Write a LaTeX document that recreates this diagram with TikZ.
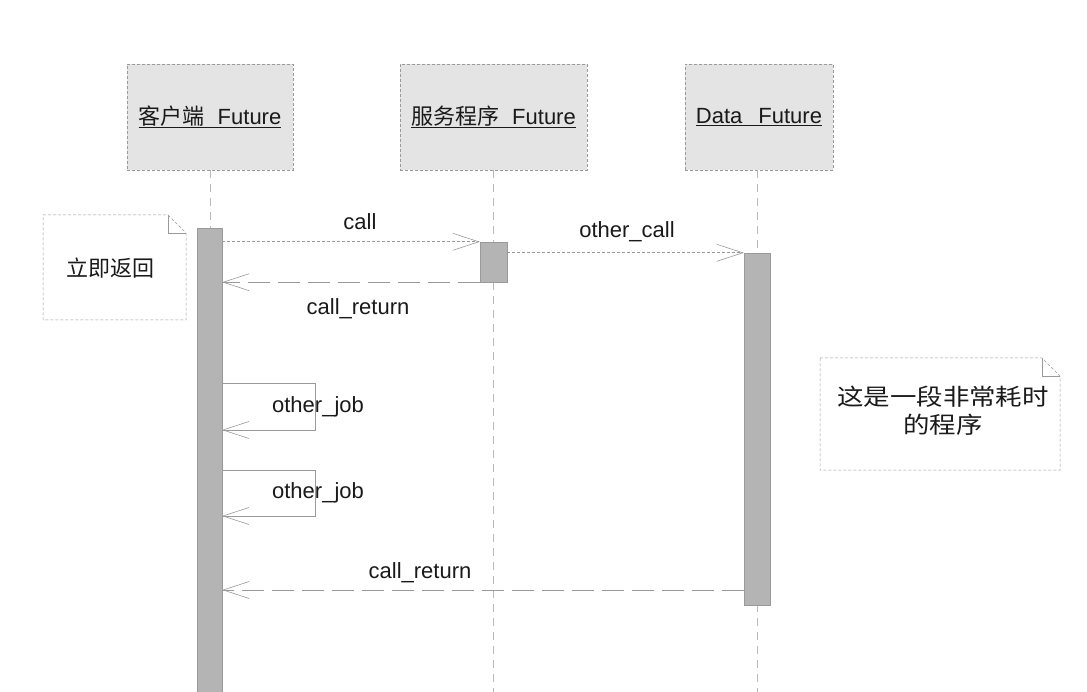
\documentclass[tikz,border=0pt]{standalone}
\usepackage{fontspec}
\setmainfont{Liberation Sans}
\newfontfamily\cjk{Noto Sans CJK SC}
\newfontfamily\cjkwide[FakeStretch=1.15]{Noto Sans CJK SC}
\usetikzlibrary{arrows.meta}
\definecolor{hdrfill}{HTML}{E4E4E4}
\definecolor{linegray}{HTML}{9A9A9A}
\definecolor{barfill}{HTML}{B4B4B4}
\definecolor{inkc}{HTML}{1A1A1A}
\tikzset{
  hdr/.style={draw=linegray, densely dashed, fill=hdrfill, line width=0.6pt, minimum height=106pt, inner sep=0pt},
  hdrtext/.style={font=\fontsize{22}{24}\selectfont, text=inkc},
  lifeline/.style={draw=linegray!70, dash pattern=on 8pt off 6pt, line width=0.5pt},
  bar/.style={draw=linegray, fill=barfill, line width=0.4pt, inner sep=0pt},
  msg/.style={draw=linegray, densely dashed, line width=0.6pt, -{Straight Barb[length=26pt,width=17pt,line width=0.6pt]}},
  ret/.style={draw=linegray, dash pattern=on 22pt off 8pt, line width=0.6pt, -{Straight Barb[length=26pt,width=17pt,line width=0.6pt]}},
  selfm/.style={draw=linegray, line width=0.6pt, -{Straight Barb[length=26pt,width=17pt,line width=0.6pt]}},
  lbl/.style={font=\fontsize{22}{24}\selectfont, text=inkc, inner sep=0pt},
  notebox/.style={draw=linegray, densely dashed, line width=0.5pt, fill=white},
  notetext/.style={font=\cjk\fontsize{22}{23}\selectfont, text=inkc, align=center, inner sep=0pt},
}
\begin{document}
\begin{tikzpicture}[x=1pt,y=-1pt]
\useasboundingbox (0,0) rectangle (1087,692);
\fill[white] (0,0) rectangle (1087,692);

% headers
\node[hdr, minimum width=166pt] (h1) at (210,117) {};
\node[hdr, minimum width=187pt] (h2) at (493.5,117) {};
\node[hdr, minimum width=148pt] (h3) at (759,117) {};
\node[hdrtext] (t1) at (h1.center) {\underline{{\cjk 客户端}\hspace{13pt}Future}};
\node[hdrtext] (t2) at (h2.center) {\underline{{\cjk 服务程序}\hspace{13pt}Future}};
\node[hdrtext] (t3) at (h3.center) {\underline{Data\hspace{16pt}Future}};

% lifelines
\coordinate (e1) at (210,692);
\coordinate (e2) at (493,692);
\coordinate (e3) at (757,692);
\draw[lifeline] (h1.south) -- (e1);
\draw[lifeline] (h2.south -| e2) -- (e2);
\draw[lifeline] (h3.south -| e3) -- (e3);

% activation bars
\node[bar, minimum width=25pt, minimum height=466pt] (b1) at (209.5,461) {};
\node[bar, minimum width=27pt, minimum height=40pt] (b2) at (493.5,262) {};
\node[bar, minimum width=26pt, minimum height=352pt] (b3) at (757,429) {};

% messages
\draw[msg] (b1.east |- b2.north) -- (b2.north west);
\node[lbl] (lcall) at (360,222) {call};
\draw[ret] (b2.south west) -- (b1.east |- b2.south);
\node[lbl] (lret1) at (358,309) {call\_return};
\draw[msg] (b2.east |- b3.north) -- (b3.north west);
\node[lbl] (locall) at (627,232) {other\_call};

% self messages
\coordinate (s1a) at (222,383);
\coordinate (s1b) at (315,383);
\coordinate (s1c) at (315,430);
\coordinate (s1d) at (222,430);
\draw[selfm] (s1a) -- (s1b) -- (s1c) -- (s1d);
\node[lbl] (lj1) at (318,407) {other\_job};
\coordinate (s2a) at (222,470);
\coordinate (s2b) at (315,470);
\coordinate (s2c) at (315,516);
\coordinate (s2d) at (222,516);
\draw[selfm] (s2a) -- (s2b) -- (s2c) -- (s2d);
\node[lbl] (lj2) at (318,493) {other\_job};

% final return
\coordinate (r2s) at (744,590);
\draw[ret] (r2s) -- (b1.east |- r2s);
\node[lbl] (lret2) at (420,573) {call\_return};

% notes
\draw[notebox] (43,215) -- (168,215) -- (186,233) -- (186,320) -- (43,320) -- cycle;
\draw[draw=linegray, line width=0.5pt] (168,215) -- (168,233) -- (186,233);
\node[notetext] (n1) at (110,268) {立即返回};

\draw[notebox] (820,358) -- (1042,358) -- (1060,376) -- (1060,470) -- (820,470) -- cycle;
\draw[draw=linegray, line width=0.5pt] (1042,358) -- (1042,376) -- (1060,376);
\node[notetext, font=\cjkwide\fontsize{23}{28}\selectfont] (n2) at (943,411) {这是一段非常耗时\\的程序};
\end{tikzpicture}
\end{document}
